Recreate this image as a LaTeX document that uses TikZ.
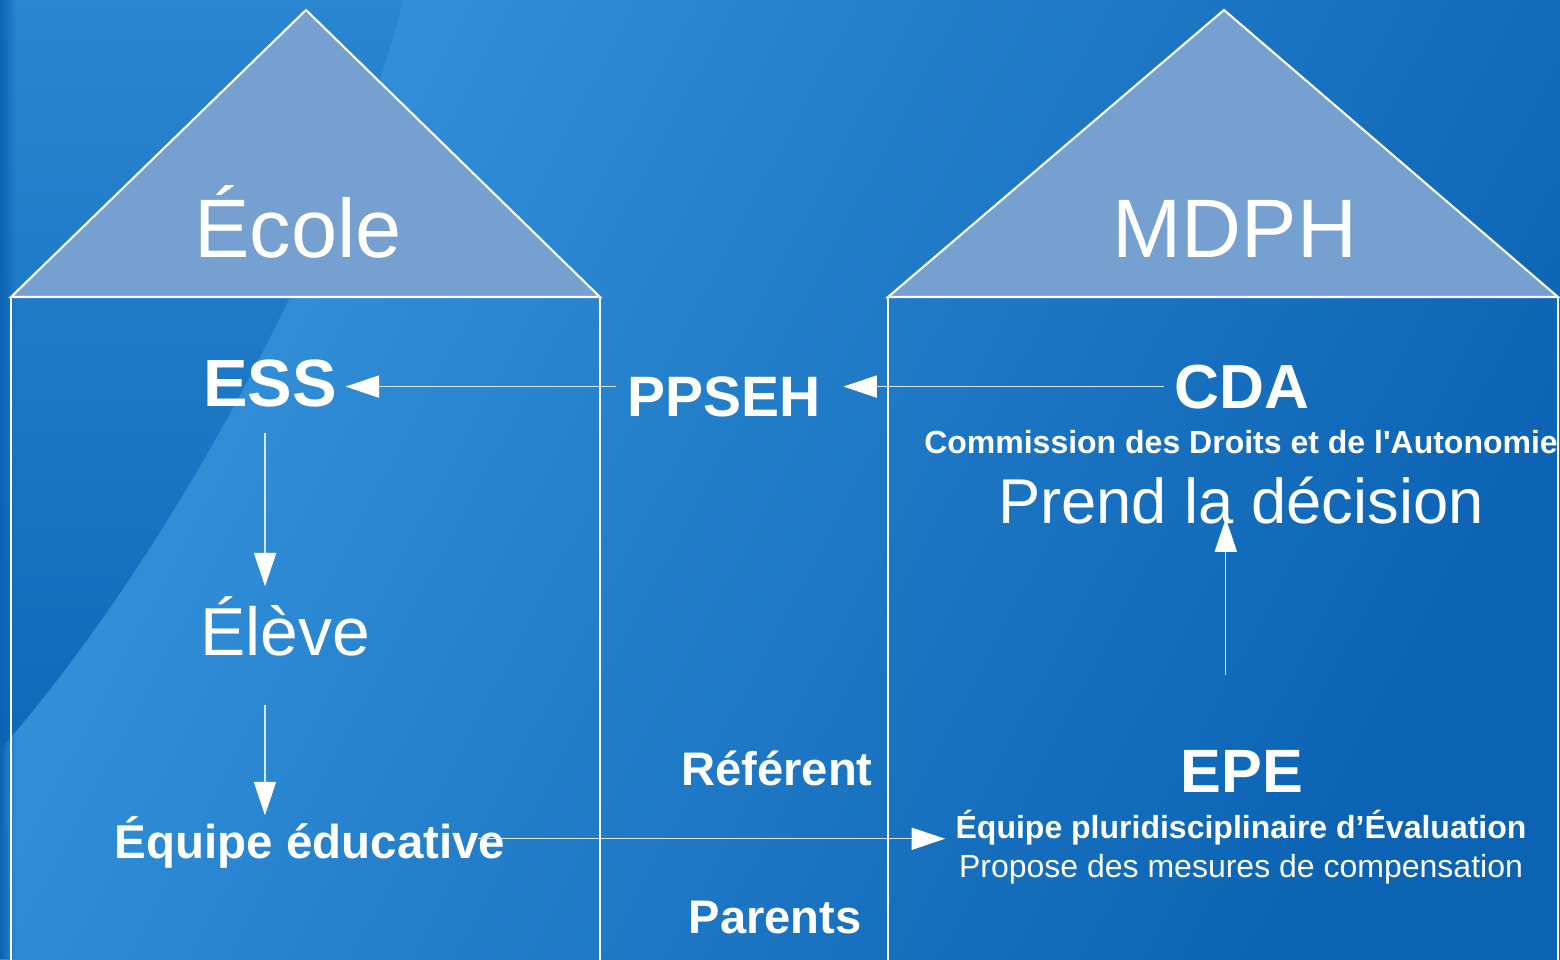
\documentclass[tikz,border=0pt]{standalone}
\usepackage{fontspec}
\setmainfont{Liberation Sans}
\usetikzlibrary{arrows.meta,fadings}
\definecolor{bglight}{HTML}{3593DB}
\definecolor{bgdark}{HTML}{0C63B4}
\definecolor{bandtop}{HTML}{2A86D0}
\definecolor{bandbot}{HTML}{0F69BB}
\definecolor{rooffill}{HTML}{76A0CF}
\definecolor{linkcol}{HTML}{D5E6F5}
\newcommand{\fsz}[1]{\fontsize{#1}{#1}\selectfont}

\begin{document}
\begin{tikzpicture}[x=0.01cm, y=-0.01cm,
    txt/.style={text=white, inner sep=0pt, anchor=base},
    wall/.style={draw=white, line width=0.6pt},
    link/.style={draw=linkcol, line width=0.35pt,
      -{Triangle[length=9.5pt,width=6.3pt,color=white]}}]
    \useasboundingbox (0,0) rectangle (1560,959);
    % background
    \shade[top color=bglight, bottom color=bgdark, shading angle=62] (0,0) rectangle (1560,959);
    \shade[top color=bandtop, bottom color=bandbot]
      (0,0) -- (403,0) .. controls (360,180) and (200,520) .. (0,750) -- cycle;
    \fill[bgdark, path fading=east] (0,0) rectangle (16,959);

    % the two houses
    \draw[wall] (11,980) -- (11,297) -- (600,297) -- (600,980);
    \filldraw[wall, fill=rooffill] (11,297) -- (306,10) -- (600,297) -- cycle;
    \draw[wall] (888,980) -- (888,297) -- (1558,297) -- (1558,980);
    \filldraw[wall, fill=rooffill] (888,297) -- (1224,10) -- (1558,297) -- cycle;

    \node[txt, font={\fsz{23.6}}] (ecole) at (298,257) {École};
    \node[txt, font={\fsz{23.6}}] (mdph) at (1235,257) {MDPH};

    \node[txt, font={\fsz{19}\bfseries}] (ess) at (270,406) {ESS};
    \node[txt, font={\fsz{19.3}}] (eleve) at (285,655) {Élève};
    \node[txt, font={\fsz{13.5}\bfseries}] (equipe) at (310,858) {Équipe éducative};

    \node[txt, font={\fsz{16.2}\bfseries}] (ppseh) at (724,416) {PPSEH};
    \node[txt, font={\fsz{13.4}\bfseries}] (referent) at (777,785) {Référent};
    \node[txt, font={\fsz{13.4}\bfseries}] (parents) at (775,933) {Parents};

    \node[txt, font={\fsz{17.7}\bfseries}] (cda) at (1242,408) {CDA};
    \node[txt, font={\fsz{9.1}\bfseries}] (cdadef) at (1241,453) {Commission des Droits et de l\textquotesingle Autonomie};
    \node[txt, font={\fsz{18}}] (prend) at (1241,523) {Prend la décision};
    \node[txt, font={\fsz{17.4}\bfseries}] (epe) at (1242,792) {EPE};
    \node[txt, font={\fsz{9.1}\bfseries}] (epedef) at (1241,838) {Équipe pluridisciplinaire d’Évaluation};
    \node[txt, font={\fsz{9.1}}] (epeaction) at (1241,877) {Propose des mesures de compensation};

    % links
    \draw[link, shorten <=2.8pt, shorten >=6.3pt] (cda.west) -- (cda.west -| ppseh.east);
    \draw[link, shorten <=3.1pt, shorten >=2.3pt] (ppseh.west |- cda.west) -- (ess.east |- cda.west);
    \coordinate (essout) at ([xshift=-1.4pt]ess.south);
    \draw[link, shorten <=7.4pt, shorten >=2.6pt] (essout) -- (essout |- eleve.north);
    \coordinate (eleveout) at ([xshift=-5.7pt]eleve.south);
    \draw[link, shorten <=13.7pt] (eleveout) -- (eleveout |- equipe.north);
    \coordinate (equipeout) at ([xshift=-8pt, yshift=0.9pt]equipe.east);
    \draw[link, shorten >=2.8pt] (equipeout) -- (equipeout -| epedef.west);
    \coordinate (epeout) at ([xshift=-4.6pt]epe.north);
    \draw[link, shorten <=21pt, shorten >=-1.7pt] (epeout) -- (epeout |- prend.south);
\end{tikzpicture}
\end{document}
